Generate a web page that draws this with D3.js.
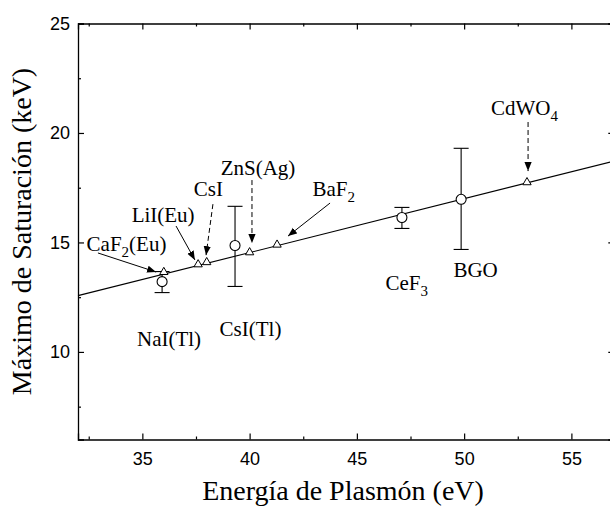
<!DOCTYPE html>
<html>
<head>
<meta charset="utf-8">
<script src="https://cdn.jsdelivr.net/npm/d3@7"></script>
<style>
  body { margin: 0; background: #fff; }
  svg { display: block; }
</style>
</head>
<body>
<svg id="chart" width="610" height="511"></svg>
<script>
// measured points (eV, keV)
const circleNames = ['NaI(Tl)', 'CsI(Tl)', 'CeF3', 'BGO'];
const circleX = [35.92, 39.32, 47.1, 49.86];
const circleY = [13.21, 14.86, 16.14, 16.97];
const errLow = [12.71, 12.99, 15.64, 14.68];
const errHigh = [13.67, 16.65, 16.6, 19.3];

const triNames = ['CaF2(Eu)', 'LiI(Eu)', 'CsI', 'ZnS(Ag)', 'BaF2', 'CdWO4'];
const triX = [36.0, 37.6, 38.0, 40.0, 41.28, 52.93];
const triY = [13.6, 13.95, 14.05, 14.5, 14.85, 17.7];

// linear fit
const fitX = [32, 57];
const fitY = [12.57, 18.72];

const xTicks = [35, 40, 45, 50, 55];
const yTicks = [10, 15, 20, 25];

// labels: text parts [main, subscript, rest], anchor in data units
const labels = [
  { parts: ['CaF', '2', '(Eu)'], x: 32.4, y: 14.61 },
  { parts: ['LiI(Eu)', '', ''], x: 34.5, y: 15.95 },
  { parts: ['CsI', '', ''], x: 37.4, y: 17.12 },
  { parts: ['ZnS(Ag)', '', ''], x: 38.65, y: 18.08 },
  { parts: ['BaF', '2', ''], x: 42.93, y: 17.12 },
  { parts: ['CdWO', '4', ''], x: 51.25, y: 20.82 },
  { parts: ['NaI(Tl)', '', ''], x: 34.75, y: 10.27 },
  { parts: ['CsI(Tl)', '', ''], x: 38.6, y: 10.72 },
  { parts: ['CeF', '3', ''], x: 46.33, y: 12.83 },
  { parts: ['BGO', '', ''], x: 49.5, y: 13.42 }
];

// arrows: from -> to in data units
const arrows = [
  { x1: 32.93, y1: 14.52, x2: 35.64, y2: 13.65, dashed: false },
  { x1: 36.57, y1: 15.75, x2: 37.45, y2: 14.2, dashed: false },
  { x1: 38.29, y1: 16.75, x2: 37.97, y2: 14.42, dashed: true },
  { x1: 40.11, y1: 17.85, x2: 40.11, y2: 14.97, dashed: true },
  { x1: 43.75, y1: 16.8, x2: 41.79, y2: 15.29, dashed: false },
  { x1: 52.98, y1: 20.5, x2: 52.98, y2: 18.26, dashed: true }
];

const mLeft = 78, mRight = 614.3, mTop = 23.5, mBottom = 439.5;

const svg = d3.select('#chart');

const x = d3.scaleLinear().domain([32, 57]).range([mLeft, mRight]);
const y = d3.scaleLinear().domain([6, 25]).range([mBottom, mTop]);

svg.append('defs').append('marker')
  .attr('id', 'head')
  .attr('viewBox', '0 0 10 10')
  .attr('refX', 10).attr('refY', 5)
  .attr('markerWidth', 9).attr('markerHeight', 9)
  .attr('markerUnits', 'userSpaceOnUse')
  .attr('orient', 'auto')
  .append('path')
  .attr('d', 'M0,1 L10,5 L0,9 Z')
  .attr('fill', '#000');

// axes, ticks pointing inward on all four sides
const minorX = d3.range(32.5, 57, 2.5).filter(v => v % 5 !== 0);
const minorY = d3.range(7.5, 25, 2.5).filter(v => v % 5 !== 0);

const tickFont = 'Liberation Sans, Arial, sans-serif';

svg.append('g')
  .attr('transform', `translate(0,${mBottom})`)
  .call(d3.axisBottom(x).tickValues(xTicks).tickSize(-6).tickPadding(13).tickFormat(d3.format('d')))
  .call(g => g.selectAll('text').attr('font-size', 18).attr('font-family', tickFont));

svg.append('g')
  .attr('transform', `translate(0,${mBottom})`)
  .call(d3.axisBottom(x).tickValues(minorX).tickSize(-3).tickFormat(''))
  .call(g => g.select('.domain').remove());

svg.append('g')
  .attr('transform', `translate(0,${mTop})`)
  .call(d3.axisTop(x).tickValues(xTicks).tickSize(-6).tickFormat(''));

svg.append('g')
  .attr('transform', `translate(0,${mTop})`)
  .call(d3.axisTop(x).tickValues(minorX).tickSize(-3).tickFormat(''))
  .call(g => g.select('.domain').remove());

svg.append('g')
  .attr('transform', `translate(${mLeft},0)`)
  .call(d3.axisLeft(y).tickValues(yTicks).tickSize(-6).tickPadding(8).tickFormat(d3.format('d')))
  .call(g => g.selectAll('text').attr('font-size', 18).attr('font-family', tickFont));

svg.append('g')
  .attr('transform', `translate(${mLeft},0)`)
  .call(d3.axisLeft(y).tickValues(minorY).tickSize(-3).tickFormat(''))
  .call(g => g.select('.domain').remove());

svg.append('g')
  .attr('transform', `translate(${mRight},0)`)
  .call(d3.axisRight(y).tickValues(yTicks).tickSize(-6).tickFormat(''));

svg.append('g')
  .attr('transform', `translate(${mRight},0)`)
  .call(d3.axisRight(y).tickValues(minorY).tickSize(-3).tickFormat(''))
  .call(g => g.select('.domain').remove());

svg.selectAll('.domain').attr('stroke', '#000').attr('stroke-width', 1.3);
svg.selectAll('.tick line').attr('stroke', '#000').attr('stroke-width', 1.2);

// fit line
svg.append('path')
  .datum(d3.zip(fitX, fitY))
  .attr('d', d3.line().x(d => x(d[0])).y(d => y(d[1])))
  .attr('fill', 'none')
  .attr('stroke', '#000')
  .attr('stroke-width', 1.1);

// error bars
const capW = 7.5;
circleX.forEach((cx, i) => {
  const g = svg.append('g').attr('stroke', '#000').attr('stroke-width', 1.1);
  g.append('line')
    .attr('x1', x(cx)).attr('x2', x(cx))
    .attr('y1', y(errLow[i])).attr('y2', y(errHigh[i]));
  [errLow[i], errHigh[i]].forEach(v => {
    g.append('line')
      .attr('x1', x(cx) - capW).attr('x2', x(cx) + capW)
      .attr('y1', y(v)).attr('y2', y(v));
  });
});

// circles
svg.selectAll('circle.pt')
  .data(d3.zip(circleX, circleY))
  .join('circle')
  .attr('class', 'pt')
  .attr('cx', d => x(d[0]))
  .attr('cy', d => y(d[1]))
  .attr('r', 5)
  .attr('fill', '#fff')
  .attr('stroke', '#000')
  .attr('stroke-width', 1.1);

// triangles
const tri = d3.symbol().type(d3.symbolTriangle).size(30);
svg.selectAll('path.tri')
  .data(d3.zip(triX, triY))
  .join('path')
  .attr('class', 'tri')
  .attr('transform', d => `translate(${x(d[0])},${y(d[1]) - 1})`)
  .attr('d', tri)
  .attr('fill', '#fff')
  .attr('stroke', '#000')
  .attr('stroke-width', 1);

// arrows
svg.selectAll('line.arrow')
  .data(arrows)
  .join('line')
  .attr('class', 'arrow')
  .attr('x1', d => x(d.x1)).attr('y1', d => y(d.y1))
  .attr('x2', d => x(d.x2)).attr('y2', d => y(d.y2))
  .attr('stroke', '#000')
  .attr('stroke-width', 1)
  .attr('stroke-dasharray', d => d.dashed ? '5,3' : null)
  .attr('marker-end', 'url(#head)');

// labels
const serif = 'Liberation Serif, Times New Roman, serif';
labels.forEach(l => {
  const t = svg.append('text')
    .attr('x', x(l.x)).attr('y', y(l.y))
    .attr('font-family', serif)
    .attr('font-size', 21)
    .attr('fill', '#000');
  t.append('tspan').text(l.parts[0]);
  if (l.parts[1]) {
    t.append('tspan').attr('dy', 6).attr('font-size', 15).text(l.parts[1]);
    if (l.parts[2]) t.append('tspan').attr('dy', -6).text(l.parts[2]);
  }
});

// axis titles
svg.append('text')
  .attr('x', 343)
  .attr('y', 500)
  .attr('text-anchor', 'middle')
  .attr('font-family', serif)
  .attr('font-size', 28)
  .text('Energía de Plasmón (eV)');

svg.append('text')
  .attr('transform', `translate(31,${(mTop + mBottom) / 2}) rotate(-90)`)
  .attr('text-anchor', 'middle')
  .attr('font-family', serif)
  .attr('font-size', 28)
  .text('Máximo de Saturación (keV)');
</script>
</body>
</html>
